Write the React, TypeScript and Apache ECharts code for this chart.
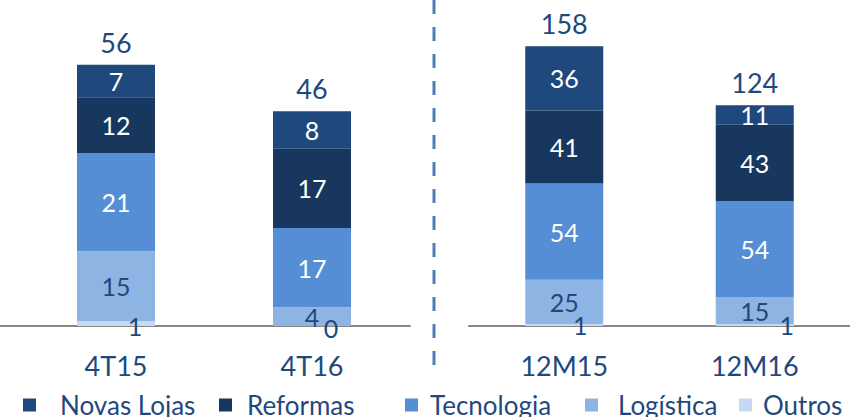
import React, { useEffect, useRef } from "react";
import * as echarts from "echarts";

const categories = ["4T15", "4T16", "12M15", "12M16"];
const seriesNames = ["Novas Lojas", "Reformas", "Tecnologia", "Logística", "Outros"];
const novasLojas = [7, 8, 36, 11];
const reformas = [12, 17, 41, 43];
const tecnologia = [21, 17, 54, 54];
const logistica = [15, 4, 25, 15];
const outros = [1, 0, 1, 1];
const totals = [56, 46, 158, 124];

const FONT = "Lato";
const DARK = "#1F497D";
const colors: Record<string, string> = {
  "Novas Lojas": "#1F497D",
  Reformas: "#17375E",
  Tecnologia: "#558ED5",
  "Logística": "#8EB4E3",
  Outros: "#C6D9F1",
};
const labelColors: Record<string, string> = {
  "Novas Lojas": "#FFFFFF",
  Reformas: "#FFFFFF",
  Tecnologia: "#FFFFFF",
  "Logística": DARK,
  Outros: DARK,
};
const outrosOffsets = [[19, 2], [19, 2], [16, 0], [32, 0]];
const legendLeft = [23, 219, 405, 585, 739];
const legendTextPad = [19, 10, 7, 15, 6];

const valuesByName: Record<string, number[]> = {
  "Novas Lojas": novasLojas,
  Reformas: reformas,
  Tecnologia: tecnologia,
  "Logística": logistica,
  Outros: outros,
};

export default function App() {
  const ref = useRef<HTMLDivElement>(null);
  useEffect(() => {
    if (!ref.current) return;
    const chart = echarts.init(ref.current, null, { renderer: "svg" });
    const stackOrder = ["Outros", "Logística", "Tecnologia", "Reformas", "Novas Lojas"];
    const series: any[] = [];
    [0, 1].forEach((g) => {
      const idx = g === 0 ? [0, 1] : [2, 3];
      stackOrder.forEach((name) => {
        const vals = valuesByName[name];
        series.push({
          name,
          type: "bar",
          stack: "s" + g,
          xAxisIndex: g,
          yAxisIndex: g,
          barWidth: 78,
          itemStyle: { color: colors[name] },
          label: {
            show: true,
            position: "inside",
            color: labelColors[name],
            fontFamily: FONT,
            fontSize: 25,
          },
          data: idx.map((i) =>
            name === "Outros"
              ? { value: vals[i], label: { offset: outrosOffsets[i] } }
              : vals[i]
          ),
        });
      });
      series.push({
        name: "Total" + g,
        type: "bar",
        stack: "s" + g,
        xAxisIndex: g,
        yAxisIndex: g,
        barWidth: 78,
        silent: true,
        itemStyle: { color: "transparent" },
        label: {
          show: true,
          position: "top",
          distance: 9,
          color: DARK,
          fontFamily: FONT,
          fontSize: 27,
          formatter: (p: any) => String(totals[idx[p.dataIndex]]),
        },
        data: idx.map(() => 0),
      });
    });

    const xAxisCommon = {
      type: "category",
      axisTick: { show: false },
      axisLine: { show: true, lineStyle: { color: "#868686", width: 2 } },
      axisLabel: { color: DARK, fontFamily: FONT, fontSize: 27, margin: 26 },
    };
    const yAxisCommon = {
      type: "value",
      min: 0,
      show: false,
      splitLine: { show: false },
    };

    chart.setOption({
      animation: false,
      textStyle: { fontFamily: FONT },
      grid: [
        { left: 18, width: 392, top: 46, height: 280 },
        { left: 469, width: 392, top: 41, height: 285 },
      ],
      xAxis: [
        { ...xAxisCommon, gridIndex: 0, data: categories.slice(0, 2) },
        { ...xAxisCommon, gridIndex: 1, data: categories.slice(2, 4) },
      ],
      yAxis: [
        { ...yAxisCommon, gridIndex: 0, max: 60 },
        { ...yAxisCommon, gridIndex: 1, max: 160 },
      ],
      legend: seriesNames.map((name, i) => ({
        data: [name],
        left: legendLeft[i],
        top: 392,
        padding: 0,
        itemWidth: 13,
        itemHeight: 13,
        icon: "rect",
        selectedMode: false,
        textStyle: {
          color: DARK,
          fontFamily: FONT,
          fontSize: 26,
          padding: [0, 0, 0, legendTextPad[i]],
        },
      })),
      graphic: [
        {
          type: "line",
          shape: { x1: 0, y1: 326, x2: 18, y2: 326 },
          style: { stroke: "#868686", lineWidth: 2 },
          silent: true,
        },
        {
          type: "line",
          shape: { x1: 434, y1: 0, x2: 434, y2: 378 },
          style: { stroke: "#4A7EBB", lineWidth: 3, lineDash: [14, 13] },
          silent: true,
        },
      ],
      series,
    });
    return () => chart.dispose();
  }, []);
  return (
    <div
      ref={ref}
      style={{ position: "absolute", left: 0, top: 0, width: 850, height: 417, background: "#fff" }}
    />
  );
}
